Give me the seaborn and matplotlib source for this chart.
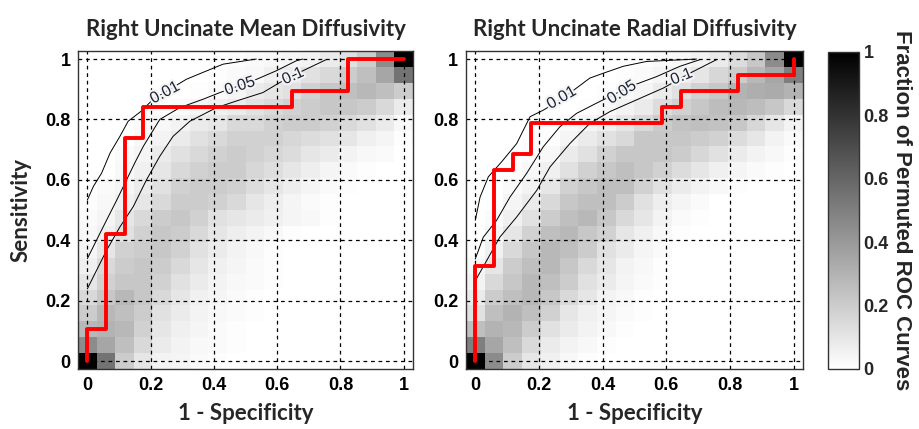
import numpy as np
import matplotlib
matplotlib.use('Agg')
import matplotlib.pyplot as plt
import matplotlib.patheffects as pe
import seaborn as sns

# titles / ticks
titles = ['Right Uncinate Mean Diffusivity', 'Right Uncinate Radial Diffusivity']
ticks = [0, 0.2, 0.4, 0.6, 0.8, 1]
tick_labels = ['0', '0.2', '0.4', '0.6', '0.8', '1']
cbar_ticks = [0, 0.2, 0.4, 0.6, 0.8, 1]

# fraction of permuted ROC curves per cell, rows from sensitivity 0 (bottom) to 1 (top),
# columns from 1-specificity 0 to 1
md_frac = [
    [1.00, 0.55, 0.20, 0.10, 0.05, 0.04, 0.02, 0.01, 0, 0, 0, 0, 0, 0, 0, 0, 0, 0],
    [0.45, 0.35, 0.25, 0.15, 0.08, 0.05, 0.03, 0.02, 0.01, 0, 0, 0, 0, 0, 0, 0, 0, 0],
    [0.28, 0.30, 0.28, 0.18, 0.10, 0.06, 0.04, 0.02, 0.01, 0, 0, 0, 0, 0, 0, 0, 0, 0],
    [0.20, 0.28, 0.25, 0.20, 0.12, 0.08, 0.05, 0.03, 0.02, 0.01, 0, 0, 0, 0, 0, 0, 0, 0],
    [0.15, 0.22, 0.28, 0.22, 0.15, 0.10, 0.06, 0.04, 0.02, 0.01, 0, 0, 0, 0, 0, 0, 0, 0],
    [0.10, 0.18, 0.22, 0.22, 0.18, 0.12, 0.08, 0.05, 0.03, 0.02, 0.01, 0, 0, 0, 0, 0, 0, 0],
    [0.06, 0.15, 0.20, 0.22, 0.20, 0.15, 0.10, 0.06, 0.04, 0.02, 0.01, 0, 0, 0, 0, 0, 0, 0],
    [0.04, 0.10, 0.18, 0.20, 0.22, 0.18, 0.12, 0.08, 0.05, 0.03, 0.01, 0, 0, 0, 0, 0, 0, 0],
    [0.03, 0.06, 0.12, 0.18, 0.22, 0.20, 0.15, 0.10, 0.07, 0.05, 0.03, 0.01, 0, 0, 0, 0, 0, 0],
    [0.02, 0.04, 0.10, 0.15, 0.20, 0.22, 0.18, 0.12, 0.10, 0.08, 0.06, 0.04, 0.03, 0.01, 0, 0, 0, 0],
    [0.01, 0.03, 0.06, 0.10, 0.15, 0.20, 0.20, 0.18, 0.15, 0.10, 0.07, 0.04, 0.02, 0.01, 0, 0, 0, 0],
    [0, 0.02, 0.04, 0.08, 0.12, 0.18, 0.20, 0.20, 0.18, 0.14, 0.10, 0.07, 0.04, 0.02, 0.01, 0, 0, 0],
    [0, 0, 0.03, 0.06, 0.10, 0.15, 0.18, 0.20, 0.20, 0.16, 0.13, 0.10, 0.07, 0.04, 0.02, 0.01, 0, 0],
    [0, 0, 0.02, 0.04, 0.08, 0.12, 0.15, 0.18, 0.20, 0.18, 0.16, 0.14, 0.10, 0.08, 0.05, 0.03, 0.02, 0],
    [0, 0, 0, 0.03, 0.05, 0.08, 0.12, 0.15, 0.18, 0.18, 0.18, 0.16, 0.14, 0.12, 0.10, 0.06, 0.04, 0.01],
    [0, 0, 0, 0.02, 0.03, 0.05, 0.08, 0.10, 0.15, 0.15, 0.18, 0.20, 0.20, 0.18, 0.15, 0.12, 0.08, 0.03],
    [0, 0, 0, 0, 0.01, 0.02, 0.04, 0.06, 0.08, 0.12, 0.15, 0.18, 0.20, 0.22, 0.22, 0.20, 0.15, 0.08],
    [0, 0, 0, 0, 0, 0, 0.01, 0.02, 0.04, 0.08, 0.10, 0.12, 0.18, 0.22, 0.25, 0.28, 0.25, 0.20],
    [0, 0, 0, 0, 0, 0, 0, 0.01, 0.02, 0.03, 0.06, 0.08, 0.12, 0.15, 0.20, 0.25, 0.35, 0.55],
    [0, 0, 0, 0, 0, 0, 0, 0, 0.01, 0.02, 0.03, 0.04, 0.05, 0.08, 0.12, 0.20, 0.45, 1.00],
]
rd_frac = [
    [1.00, 0.45, 0.20, 0.10, 0.06, 0.03, 0.01, 0, 0, 0, 0, 0, 0, 0, 0, 0, 0, 0],
    [0.50, 0.35, 0.25, 0.15, 0.08, 0.05, 0.03, 0.01, 0, 0, 0, 0, 0, 0, 0, 0, 0, 0],
    [0.25, 0.30, 0.28, 0.20, 0.12, 0.08, 0.05, 0.03, 0.01, 0, 0, 0, 0, 0, 0, 0, 0, 0],
    [0.12, 0.25, 0.30, 0.25, 0.18, 0.10, 0.06, 0.04, 0.02, 0.01, 0, 0, 0, 0, 0, 0, 0, 0],
    [0.08, 0.20, 0.25, 0.28, 0.22, 0.15, 0.10, 0.05, 0.03, 0.01, 0, 0, 0, 0, 0, 0, 0, 0],
    [0.05, 0.15, 0.22, 0.28, 0.25, 0.20, 0.12, 0.08, 0.04, 0.02, 0.01, 0, 0, 0, 0, 0, 0, 0],
    [0.03, 0.10, 0.20, 0.25, 0.28, 0.22, 0.15, 0.10, 0.05, 0.03, 0.01, 0, 0, 0, 0, 0, 0, 0],
    [0.01, 0.06, 0.15, 0.22, 0.28, 0.25, 0.20, 0.12, 0.08, 0.04, 0.02, 0, 0, 0, 0, 0, 0, 0],
    [0, 0.04, 0.10, 0.18, 0.25, 0.28, 0.22, 0.18, 0.10, 0.06, 0.03, 0.01, 0, 0, 0, 0, 0, 0],
    [0, 0.02, 0.06, 0.12, 0.20, 0.25, 0.28, 0.22, 0.15, 0.10, 0.05, 0.02, 0.01, 0, 0, 0, 0, 0],
    [0, 0, 0.04, 0.08, 0.15, 0.22, 0.25, 0.25, 0.20, 0.12, 0.07, 0.04, 0.02, 0, 0, 0, 0, 0],
    [0, 0, 0.02, 0.05, 0.10, 0.18, 0.22, 0.25, 0.25, 0.18, 0.12, 0.08, 0.05, 0.03, 0.01, 0, 0, 0],
    [0, 0, 0.01, 0.03, 0.06, 0.12, 0.18, 0.22, 0.25, 0.22, 0.18, 0.14, 0.10, 0.06, 0.04, 0.02, 0.01, 0],
    [0, 0, 0, 0.01, 0.03, 0.08, 0.12, 0.18, 0.22, 0.22, 0.22, 0.20, 0.16, 0.12, 0.08, 0.05, 0.03, 0.01],
    [0, 0, 0, 0, 0.01, 0.04, 0.08, 0.12, 0.15, 0.22, 0.22, 0.22, 0.20, 0.18, 0.14, 0.10, 0.05, 0.02],
    [0, 0, 0, 0, 0, 0.02, 0.04, 0.06, 0.10, 0.15, 0.20, 0.24, 0.25, 0.24, 0.22, 0.16, 0.10, 0.05],
    [0, 0, 0, 0, 0, 0, 0.01, 0.03, 0.05, 0.08, 0.14, 0.18, 0.22, 0.26, 0.28, 0.26, 0.22, 0.15],
    [0, 0, 0, 0, 0, 0, 0, 0.01, 0.02, 0.04, 0.08, 0.12, 0.18, 0.22, 0.30, 0.32, 0.33, 0.30],
    [0, 0, 0, 0, 0, 0, 0, 0, 0.01, 0.02, 0.04, 0.07, 0.10, 0.16, 0.20, 0.28, 0.35, 0.50],
    [0, 0, 0, 0, 0, 0, 0, 0, 0, 0.01, 0.02, 0.03, 0.05, 0.08, 0.14, 0.22, 0.45, 1.00],
]

# observed ROC curves (step, vertical first)
md_fpr = [0, 0.059, 0.118, 0.176, 0.647, 0.824, 1.0]
md_tpr = [0, 0.105, 0.421, 0.737, 0.842, 0.895, 1.0]
rd_fpr = [0, 0.059, 0.118, 0.176, 0.588, 0.647, 0.824, 1.0, 1.0]
rd_tpr = [0, 0.316, 0.632, 0.684, 0.789, 0.842, 0.895, 0.947, 1.0]

# significance contours p = 0.01, 0.05, 0.1
md_p01_x = [0, 0.019, 0.045, 0.072, 0.103, 0.129, 0.171, 0.208, 0.261, 0.313, 0.366, 0.429, 0.534]
md_p01_y = [0.533, 0.578, 0.622, 0.689, 0.744, 0.794, 0.828, 0.867, 0.900, 0.933, 0.956, 0.983, 1.0]
md_p05_x = [0, 0.029, 0.061, 0.093, 0.119, 0.150, 0.177, 0.229, 0.292, 0.366, 0.419, 0.524, 0.597, 0.660, 0.681]
md_p05_y = [0.339, 0.400, 0.467, 0.533, 0.589, 0.656, 0.711, 0.800, 0.839, 0.867, 0.889, 0.928, 0.961, 0.994, 1.0]
md_p10_x = [0, 0.029, 0.061, 0.103, 0.145, 0.187, 0.229, 0.271, 0.324, 0.408, 0.471, 0.555, 0.608, 0.681, 0.755]
md_p10_y = [0.239, 0.300, 0.367, 0.444, 0.511, 0.600, 0.678, 0.744, 0.794, 0.839, 0.861, 0.889, 0.922, 0.961, 0.998]
rd_p01_x = [0, 0.015, 0.041, 0.083, 0.130, 0.172, 0.214, 0.276, 0.318, 0.360, 0.402, 0.465, 0.538, 0.695]
rd_p01_y = [0.466, 0.543, 0.610, 0.660, 0.720, 0.809, 0.831, 0.870, 0.904, 0.937, 0.953, 0.976, 0.992, 1.0]
rd_p05_x = [0, 0.025, 0.067, 0.109, 0.161, 0.214, 0.266, 0.318, 0.381, 0.486, 0.570, 0.643, 0.706]
rd_p05_y = [0.338, 0.410, 0.466, 0.543, 0.621, 0.710, 0.776, 0.820, 0.854, 0.909, 0.942, 0.976, 0.998]
rd_p10_x = [0, 0.036, 0.077, 0.130, 0.193, 0.235, 0.297, 0.360, 0.423, 0.507, 0.591, 0.674, 0.758]
rd_p10_y = [0.266, 0.333, 0.410, 0.477, 0.565, 0.643, 0.720, 0.787, 0.826, 0.865, 0.904, 0.953, 0.998]
p_levels = ['0.01', '0.05', '0.1']

sns.set_style('white')
plt.rcParams['font.family'] = ['Liberation Sans', 'DejaVu Sans']
label_font = ['Lato', 'DejaVu Sans']

fig = plt.figure(figsize=(9.19, 4.29), dpi=100)
ax1 = fig.add_axes([0.0849, 0.1399, 0.3645, 0.741])
ax2 = fig.add_axes([0.507, 0.1399, 0.3667, 0.741])
cax = fig.add_axes([0.901, 0.1399, 0.034, 0.739])

panels = [
    (ax1, md_frac, md_fpr, md_tpr,
     [(md_p01_x, md_p01_y), (md_p05_x, md_p05_y), (md_p10_x, md_p10_y)],
     [(0.245, 0.889, 28), (0.482, 0.911, 18), (0.650, 0.944, 24)]),
    (ax2, rd_frac, rd_fpr, rd_tpr,
     [(rd_p01_x, rd_p01_y), (rd_p05_x, rd_p05_y), (rd_p10_x, rd_p10_y)],
     [(0.271, 0.872, 30), (0.460, 0.890, 32), (0.648, 0.942, 22)]),
]

for k, (ax, frac, fpr, tpr, contours, lab_pos) in enumerate(panels):
    frac = np.array(frac)
    ny, nx = frac.shape
    sns.heatmap(frac, ax=ax, cmap='gray_r', vmin=0, vmax=1,
                cbar=(k == 1), cbar_ax=cax if k == 1 else None,
                xticklabels=False, yticklabels=False)
    ax.set_ylim(0, ny)
    ax.set_xlim(0, nx)

    def cx(v):
        return np.asarray(v, dtype=float) * (nx - 1) + 0.5

    def cy(v):
        return np.asarray(v, dtype=float) * (ny - 1) + 0.5

    # dashed grid
    for t in ticks:
        ax.axvline(cx(t), color='k', lw=0.9, ls=(0, (3, 3)), zorder=2)
        ax.axhline(cy(t), color='k', lw=0.9, ls=(0, (3, 3)), zorder=2)

    # contours with labels
    for (xs, ys), lev, (lx, ly, rot) in zip(contours, p_levels, lab_pos):
        ax.plot(cx(xs), cy(ys), color='k', lw=0.7, zorder=3)
        ax.text(cx(lx), cy(ly), lev, rotation=rot, fontsize=11.5, color='#1c2438',
                ha='center', va='center', zorder=4,
                path_effects=[pe.withStroke(linewidth=3, foreground='#f4f4f4')])

    # observed ROC curve
    ax.plot(cx(fpr), cy(tpr), color='#ff0000', lw=2.8, drawstyle='steps-pre', zorder=5)

    ax.set_xticks(cx(ticks))
    ax.set_xticklabels(tick_labels)
    ax.set_yticks(cy(ticks))
    ax.set_yticklabels(tick_labels)
    ax.tick_params(direction='in', length=3, width=0.8, labelsize=13, pad=5.5,
                   bottom=True, left=True, top=True, right=True, colors='k')
    for lab in ax.get_xticklabels() + ax.get_yticklabels():
        lab.set_fontweight('bold')
    for s in ax.spines.values():
        s.set_visible(True)
        s.set_color('#333333')
        s.set_linewidth(1.0)

    ax.set_title(titles[k], fontsize=16, fontweight='bold', family=label_font, pad=11)
    ax.set_xlabel('1 - Specificity', fontsize=16, fontweight='bold', labelpad=7,
                  family=label_font)

ax1.set_ylabel('Sensitivity', fontsize=16, fontweight='bold', labelpad=10,
               family=label_font)

# colorbar
cbar = ax2.collections[0].colorbar
cbar.outline.set_linewidth(1.0)
cbar.outline.set_edgecolor('#333333')
cbar.set_ticks(cbar_ticks)
cbar.set_ticklabels(tick_labels)
cax.tick_params(direction='in', length=3, width=0.8, labelsize=13, pad=3)
for lab in cax.get_yticklabels():
    lab.set_fontweight('bold')
cbar.set_label('Fraction of Permuted ROC Curves', rotation=-90, fontsize=16,
               fontweight='bold', labelpad=17, family=['Liberation Sans', 'DejaVu Sans'])

fig.savefig('out.png', dpi=100)
